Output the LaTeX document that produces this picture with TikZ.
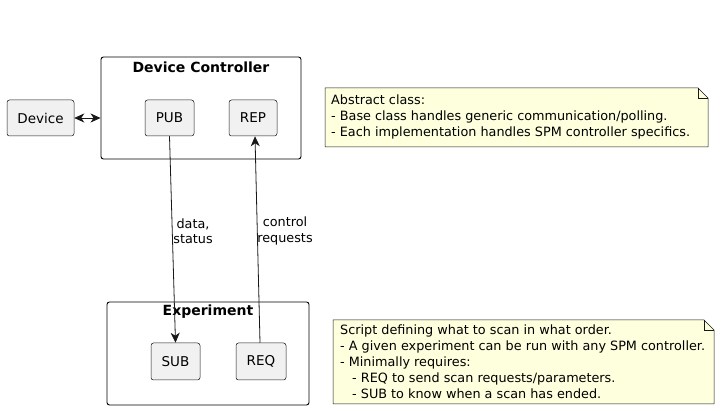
\documentclass[tikz,border=0pt]{standalone}
\usepackage{fontspec}
\setmainfont{DejaVu Sans}
\usetikzlibrary{arrows.meta,calc}
\definecolor{boxfill}{HTML}{F1F1F1}
\definecolor{edge}{HTML}{181818}
\definecolor{notefill}{HTML}{FEFFDD}
\begin{document}
\begin{tikzpicture}[x=1pt,y=-1pt,
  comp/.style={draw=edge,fill=boxfill,rounded corners=2.5pt,line width=0.5pt,inner sep=0pt,font=\fontsize{13.5}{15}\selectfont},
  cont/.style={draw=black,rounded corners=2.5pt,line width=0.9pt,inner sep=0pt},
  ctitle/.style={font=\fontsize{14}{16}\selectfont\bfseries,inner sep=0pt},
  notebox/.style={inner sep=0pt,align=left,font=\fontsize{12.8}{15.8}\selectfont},
  noteshape/.style={draw=edge,fill=notefill,line width=0.5pt},
  tip/.style={Stealth[length=10pt,width=9pt,inset=3pt]},
  conn/.style={draw=edge,line width=0.8pt,-{Stealth[length=10pt,width=9pt,inset=3pt]}},
  lbl/.style={inner sep=0pt,align=center,font=\fontsize{12.8}{15.5}\selectfont}]
\path[use as bounding box,fill=white] (0,0) rectangle (721,411);
% containers
\node[cont,minimum width=200pt,minimum height=102pt] (ctrl) at (201,108) {};
\node[ctitle] (ctrlt) at (201,67) {Device Controller};
\node[cont,minimum width=202pt,minimum height=103pt] (exp) at (208,353.5) {};
\node[ctitle] (expt) at (208,312) {Experiment};
% components
\node[comp,minimum width=67pt,minimum height=36pt] (dev) at (40.5,118) {Device};
\node[comp,minimum width=49pt,minimum height=36pt] (pub) at (169.5,118) {PUB};
\node[comp,minimum width=48pt,minimum height=36pt] (rep) at (253,118) {REP};
\node[comp,minimum width=49pt,minimum height=37pt] (sub) at (175.5,361.5) {SUB};
\node[comp,minimum width=50pt,minimum height=37pt] (req) at (261,361.5) {REQ};
% connectors
\draw[draw=edge,line width=0.8pt,{Stealth[length=10pt,width=9pt,inset=3pt]}-{Stealth[length=10pt,width=9pt,inset=3pt]}] (dev.east) -- (dev.east -| ctrl.west);
\draw[conn] (pub.south) -- (sub.north);
\draw[conn] ([xshift=-1pt]req.north) -- ([xshift=2pt]rep.south);
\node[lbl] (l1) at (193,231) {data,\\status};
\node[lbl] (l2) at (285,231) {control\\requests};
% notes
\coordinate (n1nw) at (325,88); \coordinate (n1se) at (708,147);
\draw[noteshape] (n1nw) -- ($(n1nw -| n1se)+(-10,0)$) -- ++(10,10) -- (n1se) -- (n1se -| n1nw) -- cycle;
\draw[edge,line width=0.5pt] ($(n1nw -| n1se)+(-10,0)$) -- ++(0,10) -- ++(10,0);
\node[notebox,anchor=north west] (note1) at (331,95) {Abstract class:\\- Base class handles generic communication/polling.\\- Each implementation handles SPM controller specifics.};
\coordinate (n2nw) at (333,320); \coordinate (n2se) at (714,404);
\draw[noteshape] (n2nw) -- ($(n2nw -| n2se)+(-10,0)$) -- ++(10,10) -- (n2se) -- (n2se -| n2nw) -- cycle;
\draw[edge,line width=0.5pt] ($(n2nw -| n2se)+(-10,0)$) -- ++(0,10) -- ++(10,0);
\node[notebox,anchor=north west] (note2) at (340,325) {Script defining what to scan in what order.\\- A given experiment can be run with any SPM controller.\\- Minimally requires:\\\hspace*{12pt}- REQ to send scan requests/parameters.\\\hspace*{12pt}- SUB to know when a scan has ended.};
\end{tikzpicture}
\end{document}
